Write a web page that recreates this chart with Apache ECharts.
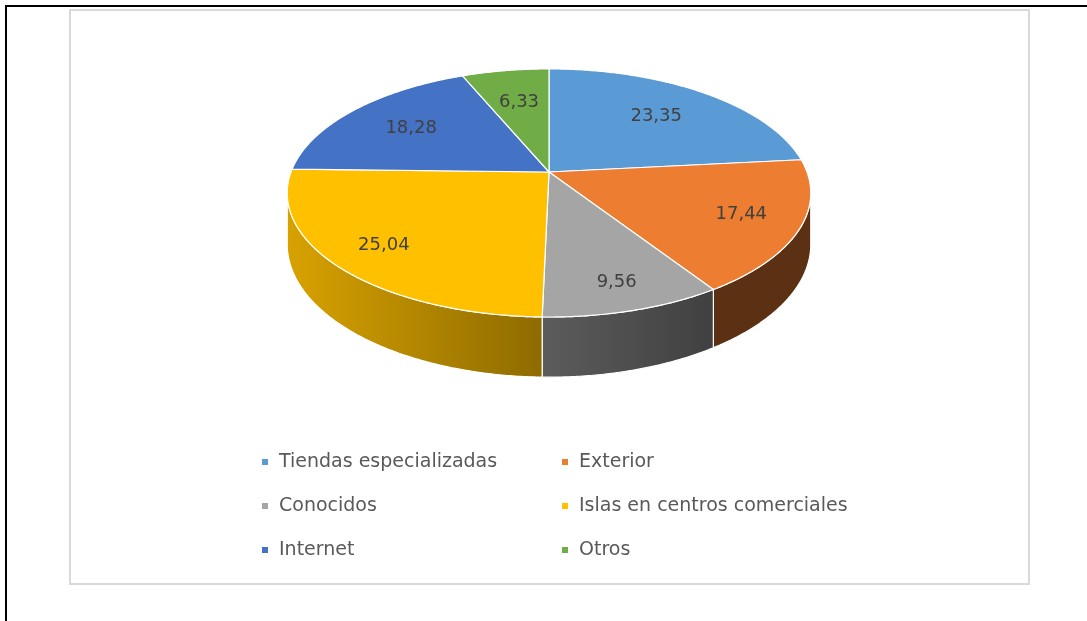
<!DOCTYPE html>
<html>
<head>
<meta charset="utf-8">
<script src="https://cdn.jsdelivr.net/npm/echarts@6/dist/echarts.min.js"></script>
<style>html,body{margin:0;padding:0;background:#fff}#c{width:1087px;height:621px}</style>
</head>
<body>
<div id="c"></div>
<script>
// ---- data ----
const categories = ['Tiendas especializadas', 'Exterior', 'Conocidos', 'Islas en centros comerciales', 'Internet', 'Otros'];
const values = [23.35, 17.44, 9.56, 25.04, 18.28, 6.33];
const colors = ['#5B9BD5', '#ED7D31', '#A5A5A5', '#FFC000', '#4472C4', '#70AD47'];

// ---- 3D pie geometry (layout) ----
const CX = 549, CY = 172, RX = 258, RY = 120.5, P = 0.169, DEPTH = 50;
const total = values.reduce((a, b) => a + b, 0);
const startAngles = [];
(function () { let acc = 0; values.forEach(v => { startAngles.push(acc / total * 2 * Math.PI); acc += v; }); })();
const TH_R = Math.acos(-P), TH_L = 2 * Math.PI - TH_R;

function proj(t, r, dz) {
  const u = Math.sin(t), v = -Math.cos(t);
  const s = 1 / (1 - P * v * r);
  return [CX + RX * u * r * s, CY + RY * v * r * s + dz * s];
}
function shade(hex, f) {
  const n = parseInt(hex.slice(1), 16);
  const r = Math.round(((n >> 16) & 255) * f), g = Math.round(((n >> 8) & 255) * f), b = Math.round((n & 255) * f);
  return 'rgb(' + r + ',' + g + ',' + b + ')';
}
function lightF(u) { return Math.max(0.39, Math.min(0.86, 0.55 - 0.3 * u)); }
function fmt(v) { return v.toFixed(2).replace('.', ','); }
function sliceAngles(i, val) { const a0 = startAngles[i]; return [a0, a0 + val / total * 2 * Math.PI]; }

function renderWall(params, api) {
  const i = params.dataIndex;
  const [a0, a1] = sliceAngles(i, api.value(0));
  const b0 = Math.max(a0, TH_R), b1 = Math.min(a1, TH_L);
  if (b1 <= b0) return { type: 'group', children: [] };
  const n = Math.max(2, Math.ceil((b1 - b0) / (Math.PI / 360)));
  const top = [], bot = [];
  for (let k = 0; k <= n; k++) {
    const t = b0 + (b1 - b0) * k / n;
    top.push(proj(t, 1, 0));
    bot.push(proj(t, 1, DEPTH));
  }
  const pts = top.concat(bot.reverse());
  const cRight = shade(colors[i], lightF(Math.sin(b0)));
  const cLeft = shade(colors[i], lightF(Math.sin(b1)));
  return {
    type: 'polygon',
    shape: { points: pts },
    style: {
      fill: { type: 'linear', x: 0, y: 0, x2: 1, y2: 0, colorStops: [{ offset: 0, color: cLeft }, { offset: 1, color: cRight }] },
      stroke: '#fff', lineWidth: 1.2, lineJoin: 'round'
    }
  };
}

function renderTop(params, api) {
  const i = params.dataIndex;
  const val = api.value(0);
  const [a0, a1] = sliceAngles(i, val);
  const pts = [[CX, CY]];
  const n = Math.max(2, Math.ceil((a1 - a0) / (Math.PI / 360)));
  for (let k = 0; k <= n; k++) pts.push(proj(a0 + (a1 - a0) * k / n, 1, 0));
  const mid = (a0 + a1) / 2, v = -Math.cos(mid), f = 0.74 + 0.09 * v;
  const lp = proj(mid, f, 0);
  return {
    type: 'group',
    children: [
      { type: 'polygon', shape: { points: pts }, style: { fill: colors[i], stroke: '#fff', lineWidth: 1.2, lineJoin: 'round' } },
      { type: 'text', x: lp[0], y: lp[1], z2: 10,
        style: { text: fmt(val), fill: '#404040', font: '18px "DejaVu Sans"', align: 'center', verticalAlign: 'middle' } }
    ]
  };
}

const seriesData = categories.map((c, i) => ({ name: c, value: values[i], itemStyle: { color: colors[i] } }));

const chart = echarts.init(document.getElementById('c'), null, { renderer: 'canvas' });
chart.setOption({
  animation: false,
  backgroundColor: '#ffffff',
  graphic: [
    { type: 'rect', silent: true, shape: { x: 5, y: 5, width: 2, height: 616 }, style: { fill: '#000' } },
    { type: 'rect', silent: true, shape: { x: 5, y: 5, width: 1082, height: 2 }, style: { fill: '#000' } },
    { type: 'rect', silent: true, z: -1, shape: { x: 70, y: 10, width: 959, height: 574 }, style: { fill: 'none', stroke: '#D9D9D9', lineWidth: 2 } }
  ],
  legend: {
    left: 257, top: 447, width: 620, orient: 'horizontal',
    itemWidth: 6, itemHeight: 6, itemGap: 24, icon: 'rect',
    selectedMode: false,
    data: categories,
    textStyle: { color: '#595959', fontFamily: 'DejaVu Sans', fontSize: 19, width: 259, lineHeight: 20, padding: [0, 0, 0, 6], overflow: 'none' }
  },
  series: [
    { type: 'pie', name: 'legend', radius: [0, 0], center: [CX, CY], silent: true, data: seriesData, label: { show: false }, labelLine: { show: false } },
    { type: 'custom', name: 'walls', coordinateSystem: 'none', z: 2, silent: true, renderItem: renderWall, data: values.map(v => [v]) },
    { type: 'custom', name: 'tops', coordinateSystem: 'none', z: 3, silent: true, renderItem: renderTop, data: values.map(v => [v]) }
  ]
});
</script>
</body>
</html>
